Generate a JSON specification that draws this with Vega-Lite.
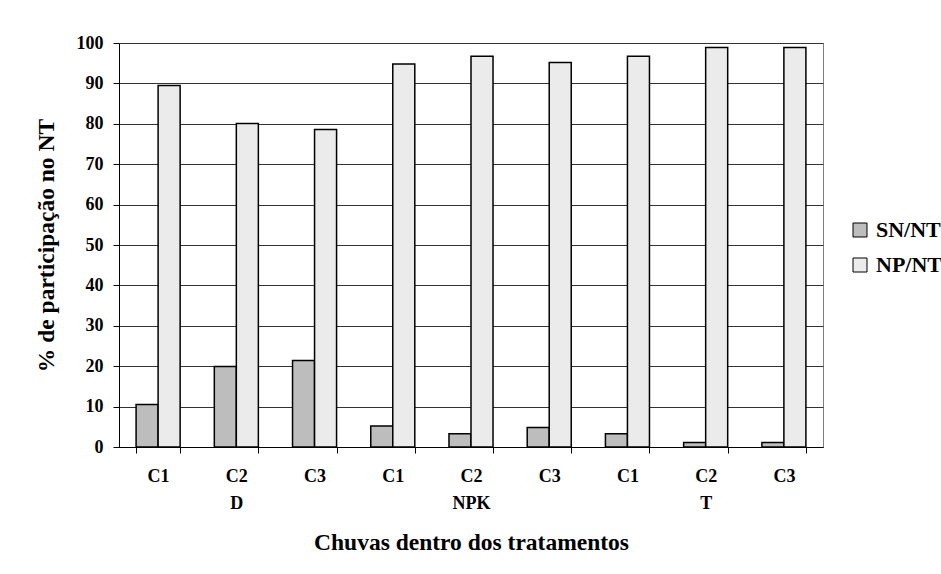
{
  "$schema": "https://vega.github.io/schema/vega-lite/v6.json",
  "autosize": {"type": "none"},
  "width": 704,
  "height": 404,
  "padding": {"left": 119, "top": 43, "right": 118, "bottom": 127},
  "background": "white",
  "config": {"font": "Liberation Serif", "view": {"stroke": "#808080", "strokeWidth": 1}},
  "data": {
    "values": [
      {"grp": "D|C1", "serie": "SN/NT", "valor": 10.5},
      {"grp": "D|C1", "serie": "NP/NT", "valor": 89.5},
      {"grp": "D|C2", "serie": "SN/NT", "valor": 19.9},
      {"grp": "D|C2", "serie": "NP/NT", "valor": 80.1},
      {"grp": "D|C3", "serie": "SN/NT", "valor": 21.4},
      {"grp": "D|C3", "serie": "NP/NT", "valor": 78.6},
      {"grp": "NPK|C1", "serie": "SN/NT", "valor": 5.2},
      {"grp": "NPK|C1", "serie": "NP/NT", "valor": 94.8},
      {"grp": "NPK|C2", "serie": "SN/NT", "valor": 3.3},
      {"grp": "NPK|C2", "serie": "NP/NT", "valor": 96.7},
      {"grp": "NPK|C3", "serie": "SN/NT", "valor": 4.8},
      {"grp": "NPK|C3", "serie": "NP/NT", "valor": 95.2},
      {"grp": "T|C1", "serie": "SN/NT", "valor": 3.3},
      {"grp": "T|C1", "serie": "NP/NT", "valor": 96.7},
      {"grp": "T|C2", "serie": "SN/NT", "valor": 1.1},
      {"grp": "T|C2", "serie": "NP/NT", "valor": 98.9},
      {"grp": "T|C3", "serie": "SN/NT", "valor": 1.1},
      {"grp": "T|C3", "serie": "NP/NT", "valor": 98.9}
    ]
  },
  "mark": {"type": "bar", "stroke": "black", "strokeWidth": 1.5},
  "encoding": {
    "x": {
      "field": "grp",
      "type": "nominal",
      "sort": ["D|C1", "D|C2", "D|C3", "NPK|C1", "NPK|C2", "NPK|C3", "T|C1", "T|C2", "T|C3"],
      "scale": {"paddingInner": 0.437, "paddingOuter": 0.2185},
      "axis": {
        "title": "Chuvas dentro dos tratamentos",
        "labelAngle": 0,
        "labelExpr": "split(datum.value,'|')[1] == 'C2' ? ['C2', split(datum.value,'|')[0]] : split(datum.value,'|')[1]",
        "labelFont": "Liberation Serif",
        "labelFontWeight": "bold",
        "labelFontSize": 18,
        "labelColor": "black",
        "labelLineHeight": 27,
        "labelPadding": 14,
        "tickBand": "extent",
        "tickSize": 6,
        "tickColor": "black",
        "domainColor": "black",
        "grid": false,
        "titleFont": "Liberation Serif",
        "titleFontSize": 23.5,
        "titleFontWeight": "bold",
        "titleColor": "black",
        "titlePadding": 18
      }
    },
    "xOffset": {"field": "serie", "type": "nominal", "sort": ["SN/NT", "NP/NT"]},
    "y": {
      "field": "valor",
      "type": "quantitative",
      "scale": {"domain": [0, 100], "nice": false},
      "axis": {
        "title": "% de participação no NT",
        "values": [0, 10, 20, 30, 40, 50, 60, 70, 80, 90, 100],
        "labelFont": "Liberation Serif",
        "labelFontWeight": "bold",
        "labelFontSize": 18,
        "labelColor": "black",
        "labelPadding": 10,
        "tickSize": 6,
        "tickColor": "black",
        "domainColor": "black",
        "grid": true,
        "gridColor": "#333333",
        "gridWidth": 1,
        "titleFont": "Liberation Serif",
        "titleFontSize": 23.5,
        "titleFontWeight": "bold",
        "titleColor": "black",
        "titlePadding": 18
      }
    },
    "fill": {
      "field": "serie",
      "type": "nominal",
      "scale": {"domain": ["SN/NT", "NP/NT"], "range": ["#bdbdbd", "#ebebeb"]},
      "legend": {
        "title": null,
        "orient": "none",
        "legendX": 730,
        "legendY": 176,
        "symbolType": "square",
        "symbolSize": 196,
        "symbolStrokeColor": "black",
        "symbolStrokeWidth": 1,
        "labelFont": "Liberation Serif",
        "labelFontSize": 22,
        "labelFontWeight": "bold",
        "labelColor": "black",
        "labelOffset": 5,
        "labelLimit": 200,
        "rowPadding": 13
      }
    }
  }
}
